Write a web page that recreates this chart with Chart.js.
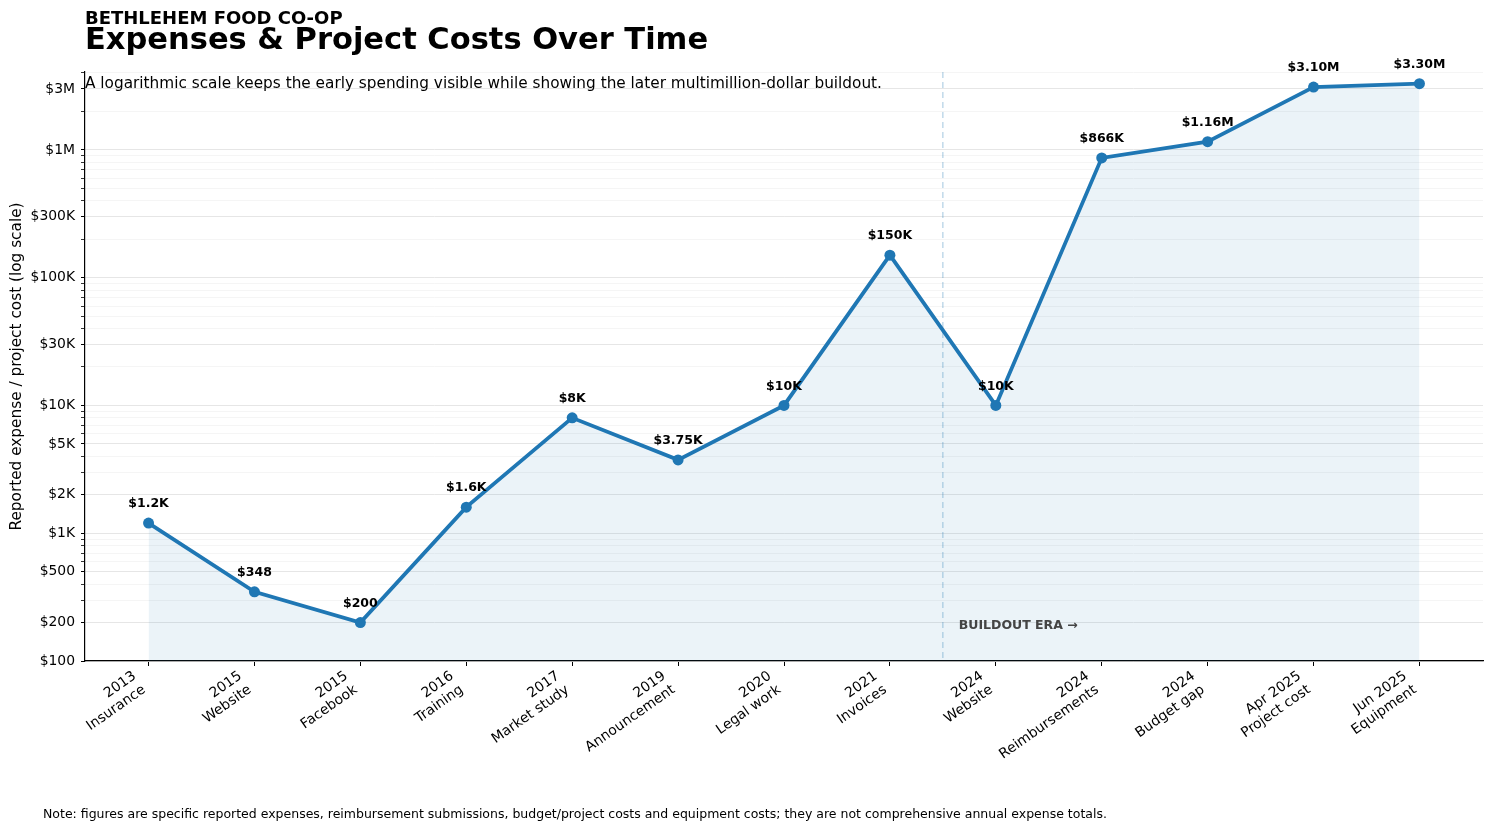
<!DOCTYPE html>
<html>
<head>
<meta charset="utf-8">
<script src="https://cdn.jsdelivr.net/npm/chart.js@4.4.1/dist/chart.umd.min.js"></script>
<style>
  html, body { margin: 0; padding: 0; background: #fff; }
  #wrap { position: relative; width: 1494px; height: 831px; font-family: "DejaVu Sans", sans-serif; color: #000; }
  #wrap canvas { position: absolute; left: 0; top: 0; }
  .txt { position: absolute; white-space: nowrap; line-height: 1; }
  #kicker { left: 85px; top: 9px; font-size: 18px; font-weight: bold; }
  #title { left: 85px; top: 24px; font-size: 30.5px; font-weight: bold; }
  #sub { left: 85px; top: 76px; font-size: 15.3px; }
  #note { left: 43px; top: 808px; font-size: 12.5px; }
</style>
</head>
<body>
<div id="wrap">
  <canvas id="canvas" width="1494" height="831"></canvas>
  <div class="txt" id="kicker">BETHLEHEM FOOD CO-OP</div>
  <div class="txt" id="title">Expenses &amp; Project Costs Over Time</div>
  <div class="txt" id="sub">A logarithmic scale keeps the early spending visible while showing the later multimillion-dollar buildout.</div>
  <div class="txt" id="note">Note: figures are specific reported expenses, reimbursement submissions, budget/project costs and equipment costs; they are not comprehensive annual expense totals.</div>
</div>
<script>
// data
const years = ['2013', '2015', '2015', '2016', '2017', '2019', '2020', '2021', '2024', '2024', '2024', 'Apr 2025', 'Jun 2025']
const items = ['Insurance', 'Website', 'Facebook', 'Training', 'Market study', 'Announcement', 'Legal work', 'Invoices', 'Website', 'Reimbursements', 'Budget gap', 'Project cost', 'Equipment']
const costs = [1200, 348, 200, 1600, 8000, 3750, 10000, 150000, 10000, 866000, 1160000, 3100000, 3300000]
const yTickValues = [100, 200, 500, 1000, 2000, 5000, 10000, 30000, 100000, 300000, 1000000, 3000000]
const yTickLabels = ['$100', '$200', '$500', '$1K', '$2K', '$5K', '$10K', '$30K', '$100K', '$300K', '$1M', '$3M']
const buildoutAt = 7.5   // between 2021 and 2024
const buildoutText = 'BUILDOUT ERA \u2192'

const BLUE = '#1f77b4'
const FONT = '"DejaVu Sans", sans-serif'

function money(v) {
  if (v >= 1e6) return '$' + (v / 1e6).toFixed(2) + 'M'
  if (v >= 1e3) return '$' + +(v / 1e3).toFixed(2) + 'K'
  return '$' + v
}

// value labels, divider line and era text
const extras = {
  id: 'extras',
  beforeDatasetsDraw(chart) {
    const {ctx, chartArea, scales} = chart
    const x = scales.x.getPixelForValue(buildoutAt)
    ctx.save()
    ctx.strokeStyle = 'rgba(31,119,180,0.35)'
    ctx.lineWidth = 1.2
    ctx.setLineDash([6, 4])
    ctx.beginPath()
    ctx.moveTo(x, chartArea.top)
    ctx.lineTo(x, chartArea.bottom)
    ctx.stroke()
    ctx.restore()
  },
  afterDatasetsDraw(chart) {
    const {ctx, scales} = chart
    const pts = chart.getDatasetMeta(0).data
    ctx.save()
    ctx.fillStyle = '#000'
    ctx.font = 'bold 12.5px ' + FONT
    ctx.textAlign = 'center'
    ctx.textBaseline = 'middle'
    pts.forEach((p, i) => ctx.fillText(money(costs[i]), p.x, p.y - 19))
    ctx.fillStyle = '#444'
    ctx.textAlign = 'left'
    ctx.fillText(buildoutText, scales.x.getPixelForValue(buildoutAt + 0.15), scales.y.getPixelForValue(190))
    ctx.restore()
  }
}

var ctx = document.getElementById('canvas').getContext('2d')
var chart = new Chart(ctx, {
  type: 'line',
  data: {
    datasets: [{
      data: costs.map((c, i) => ({x: i, y: c})),
      borderColor: BLUE,
      borderWidth: 3.8,
      backgroundColor: 'rgba(31,119,180,0.09)',
      fill: 'start',
      pointRadius: 5.5,
      pointBackgroundColor: BLUE,
      pointBorderWidth: 0,
      tension: 0
    }]
  },
  options: {
    responsive: false,
    animation: false,
    devicePixelRatio: 1,
    layout: {padding: {top: 72, right: 11, bottom: 70, left: 0}},
    plugins: {legend: {display: false}, tooltip: {enabled: false}},
    scales: {
      x: {
        type: 'linear',
        min: -0.6,
        max: 12.6,
        afterBuildTicks(scale) {
          scale.ticks = years.map((_, i) => ({value: i}))
        },
        afterFit(scale) { scale.height = 100 },
        grid: {drawOnChartArea: false, drawTicks: true, tickLength: 5, tickColor: '#000'},
        border: {display: true, color: '#000', width: 1.2},
        ticks: {
          autoSkip: false,
          minRotation: 35,
          maxRotation: 35,
          labelOffset: -14,
          padding: 2,
          color: '#000',
          font: {family: FONT, size: 13.9},
          callback: (v) => [years[v], items[v]]
        }
      },
      y: {
        type: 'logarithmic',
        min: 100,
        max: 4.07e6,
        afterBuildTicks(scale) {
          const t = []
          for (let k = 2; k <= 6; k++) {
            for (let m = 1; m <= 9; m++) {
              const v = m * Math.pow(10, k)
              if (v >= 100 && v <= 4.07e6) t.push({value: v})
            }
          }
          scale.ticks = t
        },
        afterFit(scale) { scale.width = 85 },
        grid: {
          color: (c) => yTickValues.includes(c.tick && c.tick.value) ? '#e6e6e6' : '#f5f5f5',
          lineWidth: 1,
          tickColor: '#000',
          tickLength: 4,
          tickWidth: (c) => yTickValues.includes(c.tick && c.tick.value) ? 1 : 0.8
        },
        border: {display: true, color: '#000', width: 1.2},
        ticks: {
          autoSkip: false,
          padding: 6,
          color: '#000',
          font: {family: FONT, size: 13.9},
          callback: (v) => {
            const i = yTickValues.indexOf(v)
            return i >= 0 ? yTickLabels[i] : ''
          }
        },
        title: {
          display: true,
          text: 'Reported expense / project cost (log scale)',
          color: '#000',
          font: {family: FONT, size: 15.3},
          padding: {top: 8, bottom: 0}
        }
      }
    }
  },
  plugins: [extras]
})
</script>
</body>
</html>
